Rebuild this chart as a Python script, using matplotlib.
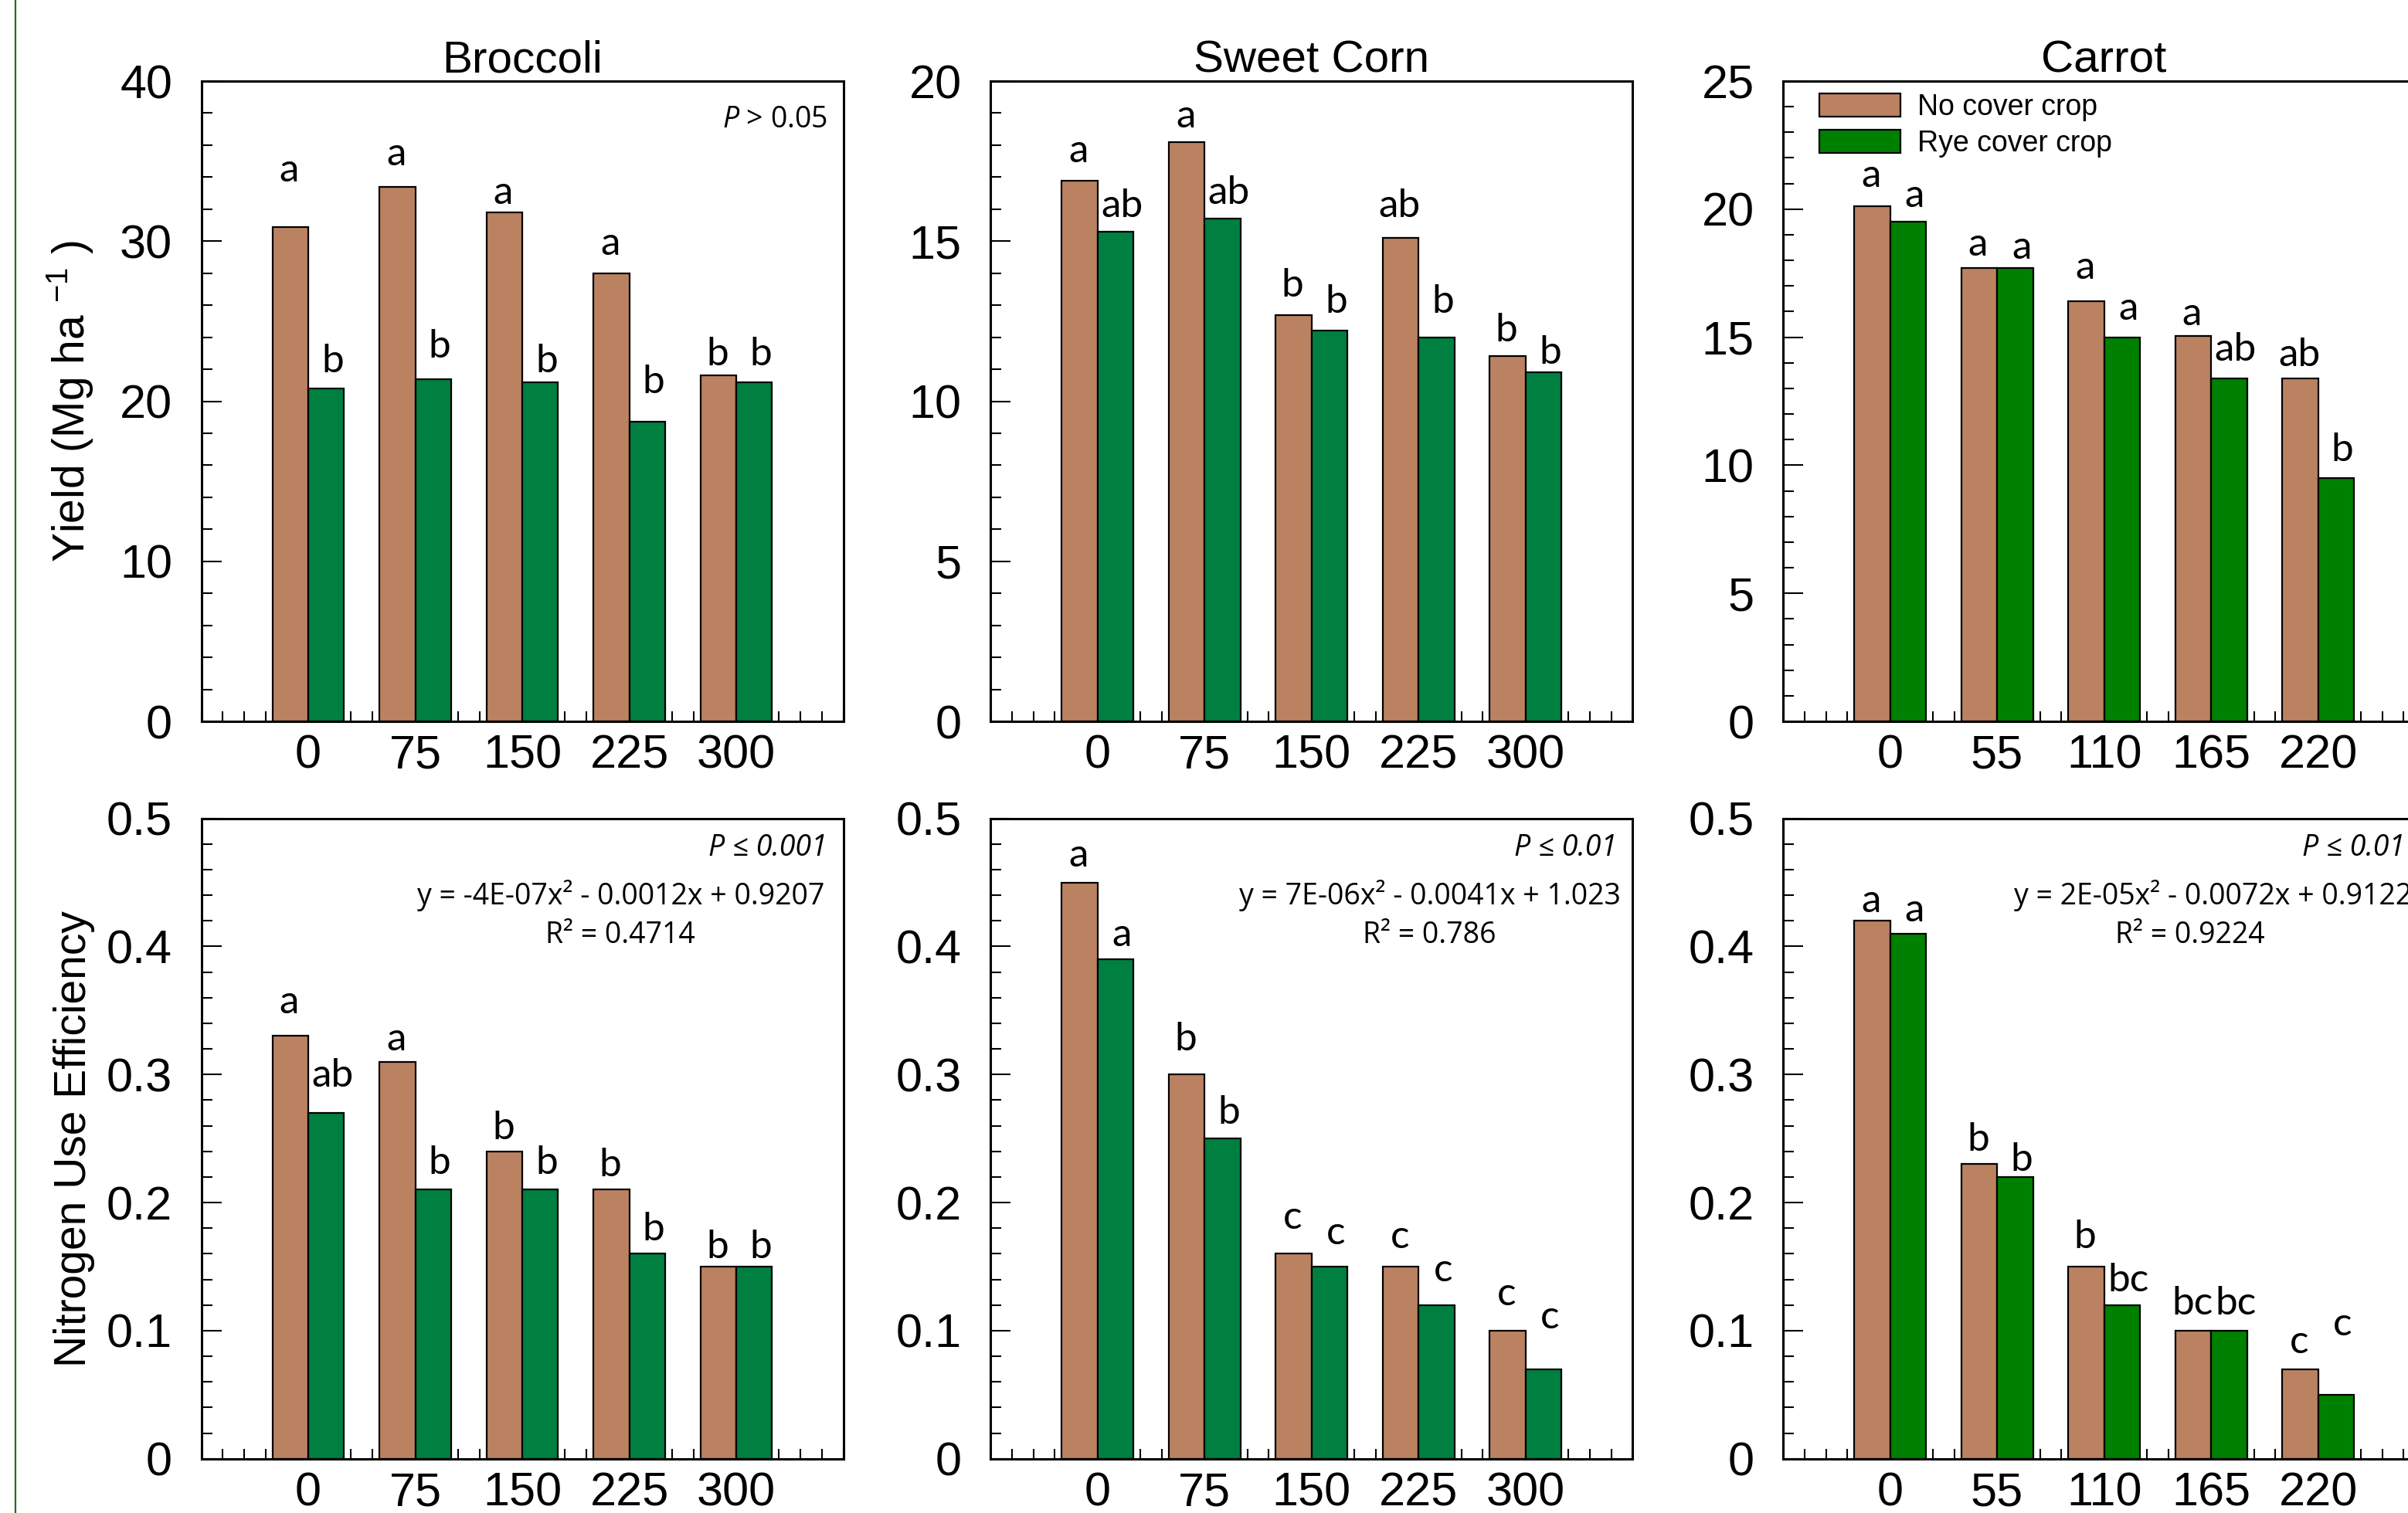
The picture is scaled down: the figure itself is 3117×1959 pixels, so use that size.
import matplotlib
matplotlib.use('Agg')
import matplotlib.pyplot as plt
from matplotlib.ticker import MultipleLocator, FuncFormatter
from matplotlib.lines import Line2D
import numpy as np

plt.rcParams['font.family'] = ['Liberation Sans Narrow', 'Liberation Sans', 'DejaVu Sans']
plt.rcParams['mathtext.fontset'] = 'custom'
plt.rcParams['mathtext.rm'] = 'Liberation Sans'
plt.rcParams['mathtext.it'] = 'Open Sans:italic'

NOTE_FONT = ['Open Sans', 'DejaVu Sans']
LETTER_FONT = ['Lato', 'DejaVu Sans']
BROWN = '#BB8262'
GREEN = '#008040'
GREEN_CARROT = '#008000'

# N rates (kg/ha)
doses_bs = ['0', '75', '150', '225', '300']
doses_carrot = ['0', '55', '110', '165', '220']

# Yield (Mg/ha)
broc_yield_no = [30.9, 33.4, 31.8, 28.0, 21.6]
broc_yield_rye = [20.8, 21.4, 21.2, 18.7, 21.2]
broc_yield_let_no = ['a', 'a', 'a', 'a', 'b']
broc_yield_let_rye = ['b', 'b', 'b', 'b', 'b']
broc_yield_laby_no = [34.4, 35.4, 33.0, 29.8, 22.9]
broc_yield_laby_rye = [22.5, 23.4, 22.5, 21.2, 22.9]

corn_yield_no = [16.9, 18.1, 12.7, 15.1, 11.4]
corn_yield_rye = [15.3, 15.7, 12.2, 12.0, 10.9]
corn_yield_let_no = ['a', 'a', 'b', 'ab', 'b']
corn_yield_let_rye = ['ab', 'ab', 'b', 'b', 'b']
corn_yield_laby_no = [17.8, 18.9, 13.6, 16.1, 12.2]
corn_yield_laby_rye = [16.1, 16.5, 13.1, 13.1, 11.5]

carr_yield_no = [20.1, 17.7, 16.4, 15.05, 13.4]
carr_yield_rye = [19.5, 17.7, 15.0, 13.4, 9.5]
carr_yield_let_no = ['a', 'a', 'a', 'a', 'ab']
carr_yield_let_rye = ['a', 'a', 'a', 'ab', 'b']
carr_yield_laby_no = [21.3, 18.6, 17.7, 15.9, 14.3]
carr_yield_laby_rye = [20.5, 18.5, 16.1, 14.5, 10.6]

# Nitrogen use efficiency
broc_nue_no = [0.33, 0.31, 0.24, 0.21, 0.15]
broc_nue_rye = [0.27, 0.21, 0.21, 0.16, 0.15]
broc_nue_let_no = ['a', 'a', 'b', 'b', 'b']
broc_nue_let_rye = ['ab', 'b', 'b', 'b', 'b']
broc_nue_laby_no = [0.356, 0.327, 0.258, 0.229, 0.165]
broc_nue_laby_rye = [0.299, 0.231, 0.231, 0.179, 0.165]

corn_nue_no = [0.45, 0.30, 0.16, 0.15, 0.10]
corn_nue_rye = [0.39, 0.25, 0.15, 0.12, 0.07]
corn_nue_let_no = ['a', 'b', 'c', 'c', 'c']
corn_nue_let_rye = ['a', 'b', 'c', 'c', 'c']
corn_nue_laby_no = [0.471, 0.327, 0.188, 0.173, 0.128]
corn_nue_laby_rye = [0.409, 0.270, 0.176, 0.147, 0.110]

carr_nue_no = [0.42, 0.23, 0.15, 0.10, 0.07]
carr_nue_rye = [0.41, 0.22, 0.12, 0.10, 0.05]
carr_nue_let_no = ['a', 'b', 'b', 'bc', 'c']
carr_nue_let_rye = ['a', 'b', 'bc', 'bc', 'c']
carr_nue_laby_no = [0.435, 0.249, 0.173, 0.121, 0.091]
carr_nue_laby_rye = [0.428, 0.233, 0.139, 0.121, 0.105]


def painel(ax, doses, no_cc, rye, let_no, let_rye, laby_no, laby_rye,
           ymax, major, minor, cor_rye):
    x = np.arange(len(doses))
    w = 0.335
    ax.bar(x - w / 2, no_cc, w, color=BROWN, edgecolor='black', linewidth=0.8,
           label='No cover crop')
    ax.bar(x + w / 2, rye, w, color=cor_rye, edgecolor='black', linewidth=0.8,
           label='Rye cover crop')
    for xi, s, yy in zip(x - w / 2, let_no, laby_no):
        ax.text(xi - 0.01, yy, s, ha='center', va='center', fontsize=18.5, family=LETTER_FONT)
    for xi, s, yy in zip(x + w / 2, let_rye, laby_rye):
        ax.text(xi + 0.06, yy, s, ha='center', va='center', fontsize=18.5, family=LETTER_FONT)

    ax.set_xlim(-1, 5)
    ax.set_ylim(0, ymax)
    ax.set_xticks(x)
    ax.set_xticklabels(doses)
    ax.xaxis.set_minor_locator(MultipleLocator(0.2))
    ax.yaxis.set_major_locator(MultipleLocator(major))
    ax.yaxis.set_minor_locator(MultipleLocator(minor))
    ax.yaxis.set_major_formatter(FuncFormatter(lambda v, p: f'{v:g}'))
    ax.tick_params(which='both', direction='in', width=0.75, top=False, right=False)
    ax.tick_params(axis='y', which='major', length=9.5, pad=13.5, labelsize=22)
    ax.tick_params(axis='y', which='minor', length=5)
    ax.tick_params(axis='x', which='major', length=0, pad=6, labelsize=22)
    ax.tick_params(axis='x', which='minor', length=4.7)
    ax.set_axisbelow(True)
    for sp in ax.spines.values():
        sp.set_linewidth(1.1)


fig = plt.figure(figsize=(15.585, 9.795), dpi=200)

lefts = [0.0836, 0.4114, 0.7405]
largura = 0.2666
altura = 0.4232
axs_top = [fig.add_axes([l, 0.5232, largura, altura]) for l in lefts]
axs_bot = [fig.add_axes([l, 0.0359, largura, altura]) for l in lefts]

painel(axs_top[0], doses_bs, broc_yield_no, broc_yield_rye, broc_yield_let_no, broc_yield_let_rye,
       broc_yield_laby_no, broc_yield_laby_rye, 40, 10, 2, GREEN)
painel(axs_top[1], doses_bs, corn_yield_no, corn_yield_rye, corn_yield_let_no, corn_yield_let_rye,
       corn_yield_laby_no, corn_yield_laby_rye, 20, 5, 1, GREEN)
painel(axs_top[2], doses_carrot, carr_yield_no, carr_yield_rye, carr_yield_let_no, carr_yield_let_rye,
       carr_yield_laby_no, carr_yield_laby_rye, 25, 5, 1, GREEN_CARROT)

painel(axs_bot[0], doses_bs, broc_nue_no, broc_nue_rye, broc_nue_let_no, broc_nue_let_rye,
       broc_nue_laby_no, broc_nue_laby_rye, 0.5, 0.1, 0.02, GREEN)
painel(axs_bot[1], doses_bs, corn_nue_no, corn_nue_rye, corn_nue_let_no, corn_nue_let_rye,
       corn_nue_laby_no, corn_nue_laby_rye, 0.5, 0.1, 0.02, GREEN)
painel(axs_bot[2], doses_carrot, carr_nue_no, carr_nue_rye, carr_nue_let_no, carr_nue_let_rye,
       carr_nue_laby_no, carr_nue_laby_rye, 0.5, 0.1, 0.02, GREEN_CARROT)

for ax, titulo in zip(axs_top, ['Broccoli', 'Sweet Corn', 'Carrot']):
    ax.set_title(titulo, fontsize=21, pad=3)

axs_top[0].set_ylabel('Yield (Mg ha $^{-1}$ )', fontsize=20.5)
axs_bot[0].set_ylabel('Nitrogen Use Efficiency', fontsize=20.5)
axs_top[0].yaxis.set_label_coords(-0.165, 0.5)
axs_bot[0].yaxis.set_label_coords(-0.165, 0.5)

# significance / regression notes
axs_top[0].text(0.975, 0.94, r'$\mathit{P}$ > 0.05', transform=axs_top[0].transAxes,
                ha='right', va='center', fontsize=13.5, family=NOTE_FONT)

notas_p = ['P ≤ 0.001', 'P ≤ 0.01', 'P ≤ 0.01']
equacoes = ['y = -4E-07x² - 0.0012x + 0.9207',
            'y = 7E-06x² - 0.0041x + 1.023',
            'y = 2E-05x² - 0.0072x + 0.9122']
r2 = ['R² = 0.4714', 'R² = 0.786', 'R² = 0.9224']
x_p = [0.975, 0.975, 0.969]
x_eq = [0.653, 0.684, 0.670]
x_r2 = [0.653, 0.684, 0.634]
for ax, p, eq, r, xp, xe, xr in zip(axs_bot, notas_p, equacoes, r2, x_p, x_eq, x_r2):
    ax.text(xp, 0.954, p, transform=ax.transAxes, ha='right', va='center',
            fontsize=13.5, style='italic', family=NOTE_FONT)
    ax.text(xe, 0.88, eq, transform=ax.transAxes, ha='center', va='center',
            fontsize=13.5, family=NOTE_FONT)
    ax.text(xr, 0.818, r, transform=ax.transAxes, ha='center', va='center',
            fontsize=13.5, family=NOTE_FONT)

axs_top[2].legend(loc='upper left', bbox_to_anchor=(0.047, 0.99), frameon=False,
                  fontsize=13.5, handlelength=2.8, handleheight=0.85, handletextpad=0.6,
                  labelspacing=0.3, borderaxespad=0, borderpad=0.2)

# thin green frame line on the left edge
fig.add_artist(Line2D([0.0064, 0.0064], [0, 1], transform=fig.transFigure,
                      color='#256b25', linewidth=0.8))

fig.savefig('out.png', dpi=200)
